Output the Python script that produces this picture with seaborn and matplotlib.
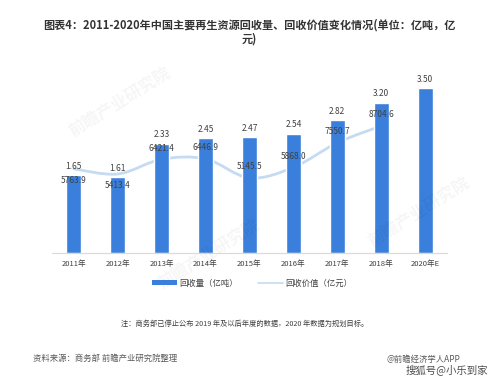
import numpy as np
import pandas as pd
import seaborn as sns
from matplotlib import pyplot as plt
from matplotlib.lines import Line2D
from matplotlib.patches import Patch, PathPatch
from matplotlib.path import Path

years = ["2011年", "2012年", "2013年", "2014年", "2015年", "2016年", "2017年", "2018年", "2020年E"]
volume = [1.65, 1.61, 2.33, 2.45, 2.47, 2.54, 2.82, 3.20, 3.50]
value = [5763.9, 5413.4, 6421.4, 6446.9, 5145.5, 5868.0, 7550.7, 8704.6]
value_label_below = [True, True, False, False, False, False, False, False]

BAR_COLOR = "#3a7fdc"
LINE_COLOR = "#c4dbf2"
CJK = ["Noto Sans CJK SC", "DejaVu Sans"]


def smooth_path(xs, ys):
    # cubic bezier through every point (catmull-rom style), like excel's smoothed line
    pts = np.column_stack([xs, ys]).astype(float)
    ext = np.vstack([pts[0], pts, pts[-1]])
    verts = [pts[0]]
    codes = [Path.MOVETO]
    for i in range(1, len(ext) - 2):
        p0, p1, p2, p3 = ext[i - 1], ext[i], ext[i + 1], ext[i + 2]
        verts += [p1 + (p2 - p0) / 6, p2 - (p3 - p1) / 6, p2]
        codes += [Path.CURVE4] * 3
    return Path(verts, codes)


def main() -> None:
    sns.set_theme(style="white")
    plt.rcParams["font.family"] = CJK

    bars = pd.DataFrame({"year": years, "volume": volume})

    fig = plt.figure(figsize=(4.99, 3.80), dpi=100)
    ax = fig.add_axes([0.104, 0.334, 0.792, 0.495])
    ax2 = ax.twinx()
    # value line sits behind the bars, as in the source chart
    ax.set_zorder(ax2.get_zorder() + 1)
    ax.patch.set_visible(False)

    sns.barplot(data=bars, x="year", y="volume", color=BAR_COLOR, width=0.34,
                saturation=1, ax=ax)
    ax.set_xlim(-0.5, len(years) - 0.5)
    ax.set_ylim(0, 4.0)
    ax.set_xlabel("")
    ax.set_ylabel("")
    ax.set_yticks([])
    for side in ["top", "right", "left"]:
        ax.spines[side].set_visible(False)
    ax.spines["bottom"].set_color("#d9d9d9")
    ax.spines["bottom"].set_linewidth(0.8)
    ax.tick_params(axis="x", length=0, labelsize=5.5, labelcolor="#404040", pad=5)
    for container in ax.containers:
        ax.bar_label(container, fmt="%.2f", fontsize=6, color="#404040", padding=3)

    ax2.set_ylim(0, 4.0 * 3219)
    ax2.set_yticks([])
    for side in ["top", "right", "left", "bottom"]:
        ax2.spines[side].set_visible(False)
    xs = np.arange(len(value))
    ax2.add_patch(PathPatch(smooth_path(xs, value), facecolor="none",
                            edgecolor=LINE_COLOR, linewidth=2.0, capstyle="round"))
    for x, v, below in zip(xs, value, value_label_below):
        ax.annotate(f"{v:.1f}", (x, v), xycoords=ax2.transData,
                    xytext=(0, -8.5 if below else 8), textcoords="offset points",
                    ha="center", va="center", fontsize=6, color="#404040")

    handles = [
        Patch(facecolor=BAR_COLOR, edgecolor="none", label="回收量（亿吨）"),
        Line2D([0], [0], color=LINE_COLOR, linewidth=1.2, label="回收价值（亿元）"),
    ]
    fig.legend(handles=handles, loc="center", bbox_to_anchor=(0.505, 0.255), ncol=2,
               frameon=False, fontsize=6, handlelength=3.0, handleheight=0.5,
               columnspacing=2.5, handletextpad=0.2, labelcolor="#404040")

    fig.text(0.5, 0.917, "图表4：2011-2020年中国主要再生资源回收量、回收价值变化情况(单位：亿吨，亿\n元)",
             ha="center", va="center", fontsize=8, fontweight="bold", color="#333333",
             linespacing=1.1)
    fig.text(0.49, 0.147, "注：商务部已停止公布 2019 年及以后年度的数据，2020 年数据为规划目标。",
             ha="center", va="center", fontsize=5.2, color="#404040")
    fig.text(0.066, 0.058, "资料来源：商务部 前瞻产业研究院整理", ha="left", va="center",
             fontsize=6, color="#595959")
    fig.text(0.775, 0.055, "@前瞻经济学人APP", ha="left", va="center",
             fontsize=6, color="#595959")
    fig.text(0.978, 0.028, "搜狐号@小乐到家", ha="right", va="center",
             fontsize=7.5, color="#4d4d4d")

    for wx, wy in [(0.24, 0.73), (0.42, 0.33), (0.84, 0.44)]:
        fig.text(wx, wy, "前瞻产业研究院", ha="center", va="center", rotation=32,
                 fontsize=12, fontweight="bold", color="#000000", alpha=0.04)

    fig.savefig("out.png", dpi=100)
    plt.close(fig)


if __name__ == "__main__":
    main()
